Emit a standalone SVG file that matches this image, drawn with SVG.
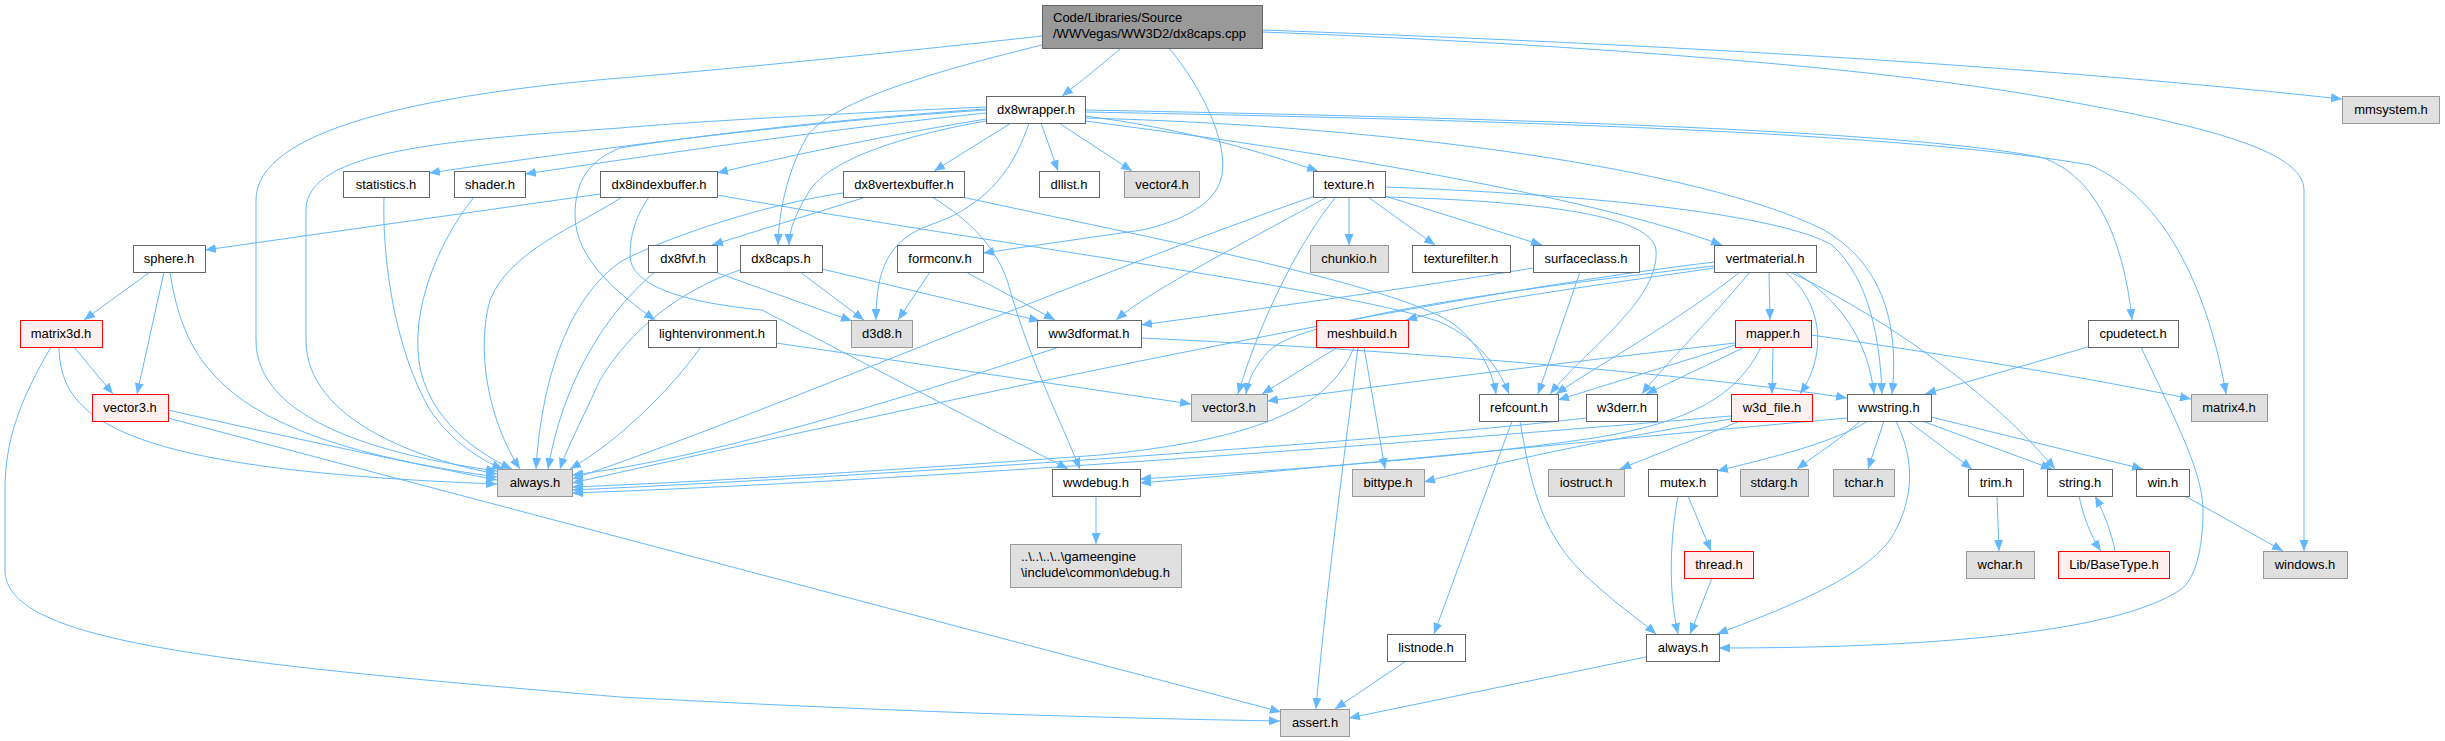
<svg xmlns="http://www.w3.org/2000/svg" width="2445" height="741" viewBox="0 0 2445 741">
<defs>
<marker id="a" markerWidth="11" markerHeight="9" refX="11" refY="4.5" orient="auto" markerUnits="userSpaceOnUse"><path d="M0,0 L11,4.5 L0,9 z" fill="#63b8ff"/></marker>
<style>
rect{stroke-width:1}
.w rect{fill:#ffffff;stroke:#666666}
.g rect{fill:#e0e0e0;stroke:#999999}
.r rect{fill:#fff0f0;stroke:#ff0000}
.m rect{fill:#999999;stroke:#666666}
text{font-family:"Liberation Sans",Arial,Helvetica,sans-serif;font-size:13px;fill:#000000;text-anchor:middle}
text.l{text-anchor:start}
#edges path{fill:none;stroke:#63b8ff;stroke-width:1;marker-end:url(#a)}
</style>
</defs>
<rect width="2445" height="741" fill="#ffffff"/>
<g id="edges">
<path d="M1121,48 C1105,62 1083,80 1062,96"/>
<path d="M1042,36 C900,52 720,70 620,78 C420,95 256,130 256,200 L256,340 C256,420 380,455 497,471"/>
<path d="M1042,45 C940,70 835,100 808,135 C790,165 779,205 778,245"/>
<path d="M1169,48 C1200,85 1228,140 1222,175 C1216,210 1165,225 1142,230 L983,253"/>
<path d="M1262,30 C1600,42 2000,62 2342,99"/>
<path d="M1262,32 C1600,45 1900,70 2060,100 C2200,125 2304,150 2304,190 L2304,551"/>
<path d="M986,110 C800,122 600,148 429,173"/>
<path d="M986,113 C850,127 700,148 525,174"/>
<path d="M986,119 C900,133 800,153 717,173"/>
<path d="M1011,123 L934,171"/>
<path d="M1041,123 L1058,171"/>
<path d="M1059,123 L1132,171"/>
<path d="M1085,116 C1180,128 1255,150 1318,171"/>
<path d="M986,107 C850,113 700,121 620,128 C450,140 306,150 306,210 L306,340 C306,420 420,460 497,474"/>
<path d="M986,109 C850,118 700,135 620,148 C590,160 575,180 575,215 C575,260 620,295 655,320"/>
<path d="M1029,123 C1015,165 990,205 930,225 C888,240 876,270 876,320"/>
<path d="M986,121 C900,136 830,160 810,190 C796,212 789,230 789,245"/>
<path d="M1085,110 C1500,118 1900,130 2040,157 C2100,175 2125,250 2132,320"/>
<path d="M1085,112 C1500,120 1900,132 2090,165 C2170,200 2210,300 2226,394"/>
<path d="M1085,118 C1400,126 1700,170 1820,228 C1880,260 1900,320 1892,394"/>
<path d="M1085,121 C1350,155 1600,200 1722,245"/>
<path d="M600,194 L205,250"/>
<path d="M622,197 C580,225 510,250 490,300 C476,350 488,420 520,469"/>
<path d="M649,197 C636,215 630,235 630,255 C630,285 680,302 762,310 L1068,469"/>
<path d="M717,195 C1000,245 1350,290 1440,322 C1480,340 1500,370 1509,394"/>
<path d="M866,197 L712,245"/>
<path d="M843,193 C760,205 660,240 620,262 C560,305 540,400 536,469"/>
<path d="M932,197 C970,220 1000,250 1010,290 C1030,360 1060,420 1080,469"/>
<path d="M962,197 C1150,238 1400,285 1455,325 C1483,348 1493,375 1496,394"/>
<path d="M1349,197 L1349,245"/>
<path d="M1368,197 L1435,245"/>
<path d="M1385,196 L1542,245"/>
<path d="M1327,197 C1250,240 1150,290 1116,320"/>
<path d="M1336,197 C1300,240 1260,320 1238,394"/>
<path d="M1315,196 C1100,270 750,420 572,479"/>
<path d="M1385,197 C1500,200 1652,210 1656,250 C1660,300 1585,350 1550,394"/>
<path d="M1385,187 C1600,195 1780,215 1832,245 C1870,280 1880,340 1882,394"/>
<path d="M150,272 L84,320"/>
<path d="M164,272 L137,394"/>
<path d="M170,272 C185,370 230,440 497,477"/>
<path d="M74,347 L113,394"/>
<path d="M59,347 C60,420 120,470 497,484"/>
<path d="M51,347 C20,400 5,440 5,490 L5,570 C5,640 200,662 620,697 C900,712 1100,718 1280,721"/>
<path d="M168,410 C300,440 420,465 497,480"/>
<path d="M168,418 L1281,712"/>
<path d="M384,197 C382,260 395,350 430,410 C450,440 480,460 503,469"/>
<path d="M474,197 C440,240 415,300 418,350 C420,410 470,450 512,469"/>
<path d="M715,272 L852,321"/>
<path d="M655,272 C615,305 565,370 548,469"/>
<path d="M800,272 L864,320"/>
<path d="M822,269 L1040,321"/>
<path d="M740,270 C680,290 630,330 600,380 C582,420 566,450 560,469"/>
<path d="M930,272 L898,320"/>
<path d="M966,272 L1055,320"/>
<path d="M776,343 L1191,404"/>
<path d="M701,347 C670,390 620,440 570,469"/>
<path d="M1059,347 C900,400 700,460 572,475"/>
<path d="M1141,338 C1400,350 1700,375 1847,398"/>
<path d="M1533,268 C1400,290 1250,310 1141,325"/>
<path d="M1580,272 L1538,394"/>
<path d="M1714,262 C1400,300 900,410 572,483"/>
<path d="M1714,268 C1600,285 1480,300 1406,320"/>
<path d="M1714,266 C1500,290 1300,320 1270,350 C1255,365 1248,380 1246,394"/>
<path d="M1740,272 C1680,320 1590,370 1556,394"/>
<path d="M1769,272 L1770,320"/>
<path d="M1750,272 C1710,320 1660,370 1642,394"/>
<path d="M1785,272 C1820,300 1830,350 1800,394"/>
<path d="M1795,272 C1840,300 1868,340 1874,394"/>
<path d="M1790,272 C1870,310 1985,385 2055,469"/>
<path d="M1338,347 L1262,394"/>
<path d="M1354,347 C1330,410 1250,440 1100,455 C900,470 700,482 572,487"/>
<path d="M1358,347 C1345,450 1325,600 1316,709"/>
<path d="M1364,347 L1385,469"/>
<path d="M1735,343 C1500,370 1350,390 1267,401"/>
<path d="M1735,345 L1558,400"/>
<path d="M1745,347 L1646,394"/>
<path d="M1773,347 L1772,394"/>
<path d="M1811,335 C1950,355 2100,380 2191,399"/>
<path d="M1761,347 C1740,390 1700,420 1600,437 C1450,460 1250,472 1140,479"/>
<path d="M1586,418 C1400,440 900,475 572,490"/>
<path d="M1731,416 C1450,440 900,482 572,493"/>
<path d="M1740,421 L1620,469"/>
<path d="M1731,419 C1600,440 1500,462 1424,482"/>
<path d="M1847,418 C1600,440 1300,470 1140,483"/>
<path d="M1868,421 C1830,445 1760,460 1717,471"/>
<path d="M1860,421 C1840,440 1815,455 1797,469"/>
<path d="M1884,421 L1868,469"/>
<path d="M1896,421 C1915,460 1915,500 1890,540 C1860,580 1780,610 1717,634"/>
<path d="M1908,421 L1972,469"/>
<path d="M1922,421 L2052,469"/>
<path d="M1931,417 L2143,469"/>
<path d="M2088,347 L1925,394"/>
<path d="M2141,347 C2170,410 2203,470 2203,510 C2203,550 2195,580 2180,590 C2120,630 1950,648 1719,648"/>
<path d="M1678,496 C1670,540 1668,590 1678,634"/>
<path d="M1688,496 L1711,551"/>
<path d="M1712,578 L1690,634"/>
<path d="M1512,421 L1434,634"/>
<path d="M1520,421 C1530,480 1540,530 1580,570 C1610,600 1640,620 1656,634"/>
<path d="M1406,661 L1335,709"/>
<path d="M1646,657 L1349,718"/>
<path d="M2185,496 L2283,551"/>
<path d="M1997,496 L1999,551"/>
<path d="M2079,496 C2083,515 2090,535 2101,551"/>
<path d="M2115,551 C2112,535 2105,515 2095,496"/>
<path d="M1096,496 L1096,544"/>
</g>
<g id="node-main" class="m"><rect x="1042.5" y="5.5" width="220" height="43"/><text class="l" x="1053" y="22">Code/Libraries/Source</text><text class="l" x="1053" y="38">/WWVegas/WW3D2/dx8caps.cpp</text></g>
<g id="node-dx8wrapper" class="w"><rect x="986.5" y="96.5" width="99" height="27"/><text x="1036" y="114">dx8wrapper.h</text></g>
<g id="node-mmsystem" class="g"><rect x="2342.5" y="96.5" width="97" height="27"/><text x="2391" y="114">mmsystem.h</text></g>
<g id="node-statistics" class="w"><rect x="343.5" y="171.5" width="86" height="26"/><text x="386" y="189">statistics.h</text></g>
<g id="node-shader" class="w"><rect x="454.5" y="171.5" width="71" height="26"/><text x="490" y="189">shader.h</text></g>
<g id="node-dx8indexbuffer" class="w"><rect x="600.5" y="171.5" width="117" height="26"/><text x="659" y="189">dx8indexbuffer.h</text></g>
<g id="node-dx8vertexbuffer" class="w"><rect x="843.5" y="171.5" width="121" height="26"/><text x="904" y="189">dx8vertexbuffer.h</text></g>
<g id="node-dllist" class="w"><rect x="1039.5" y="171.5" width="60" height="26"/><text x="1069" y="189">dllist.h</text></g>
<g id="node-vector4" class="g"><rect x="1124.5" y="171.5" width="75" height="26"/><text x="1162" y="189">vector4.h</text></g>
<g id="node-texture" class="w"><rect x="1313.5" y="171.5" width="72" height="26"/><text x="1349" y="189">texture.h</text></g>
<g id="node-sphere" class="w"><rect x="133.5" y="245.5" width="72" height="27"/><text x="169" y="263">sphere.h</text></g>
<g id="node-dx8fvf" class="w"><rect x="648.5" y="245.5" width="69" height="27"/><text x="683" y="263">dx8fvf.h</text></g>
<g id="node-dx8caps" class="w"><rect x="740.5" y="245.5" width="82" height="27"/><text x="781" y="263">dx8caps.h</text></g>
<g id="node-formconv" class="w"><rect x="897.5" y="245.5" width="86" height="27"/><text x="940" y="263">formconv.h</text></g>
<g id="node-chunkio" class="g"><rect x="1310.5" y="245.5" width="78" height="27"/><text x="1349" y="263">chunkio.h</text></g>
<g id="node-texturefilter" class="w"><rect x="1412.5" y="245.5" width="98" height="27"/><text x="1461" y="263">texturefilter.h</text></g>
<g id="node-surfaceclass" class="w"><rect x="1533.5" y="245.5" width="106" height="27"/><text x="1586" y="263">surfaceclass.h</text></g>
<g id="node-vertmaterial" class="w"><rect x="1714.5" y="245.5" width="102" height="27"/><text x="1765" y="263">vertmaterial.h</text></g>
<g id="node-matrix3d" class="r"><rect x="20.5" y="320.5" width="82" height="27"/><text x="61" y="338">matrix3d.h</text></g>
<g id="node-lightenvironment" class="w"><rect x="648.5" y="320.5" width="128" height="27"/><text x="712" y="338">lightenvironment.h</text></g>
<g id="node-d3d8" class="g"><rect x="851.5" y="320.5" width="61" height="27"/><text x="882" y="338">d3d8.h</text></g>
<g id="node-ww3dformat" class="w"><rect x="1037.5" y="320.5" width="104" height="27"/><text x="1089" y="338">ww3dformat.h</text></g>
<g id="node-meshbuild" class="r"><rect x="1316.5" y="320.5" width="92" height="27"/><text x="1362" y="338">meshbuild.h</text></g>
<g id="node-mapper" class="r"><rect x="1735.5" y="320.5" width="76" height="27"/><text x="1773" y="338">mapper.h</text></g>
<g id="node-cpudetect" class="w"><rect x="2088.5" y="320.5" width="90" height="27"/><text x="2133" y="338">cpudetect.h</text></g>
<g id="node-vector3-a" class="r"><rect x="92.5" y="394.5" width="76" height="27"/><text x="130" y="412">vector3.h</text></g>
<g id="node-vector3-b" class="g"><rect x="1191.5" y="394.5" width="76" height="27"/><text x="1229" y="412">vector3.h</text></g>
<g id="node-refcount" class="w"><rect x="1479.5" y="394.5" width="79" height="27"/><text x="1519" y="412">refcount.h</text></g>
<g id="node-w3derr" class="w"><rect x="1586.5" y="394.5" width="71" height="27"/><text x="1622" y="412">w3derr.h</text></g>
<g id="node-w3d_file" class="r"><rect x="1731.5" y="394.5" width="81" height="27"/><text x="1772" y="412">w3d_file.h</text></g>
<g id="node-wwstring" class="w"><rect x="1847.5" y="394.5" width="84" height="27"/><text x="1889" y="412">wwstring.h</text></g>
<g id="node-matrix4" class="g"><rect x="2191.5" y="394.5" width="76" height="27"/><text x="2229" y="412">matrix4.h</text></g>
<g id="node-always-a" class="g"><rect x="497.5" y="469.5" width="75" height="27"/><text x="535" y="487">always.h</text></g>
<g id="node-wwdebug" class="w"><rect x="1052.5" y="469.5" width="88" height="27"/><text x="1096" y="487">wwdebug.h</text></g>
<g id="node-bittype" class="g"><rect x="1352.5" y="469.5" width="72" height="27"/><text x="1388" y="487">bittype.h</text></g>
<g id="node-iostruct" class="g"><rect x="1548.5" y="469.5" width="76" height="27"/><text x="1586" y="487">iostruct.h</text></g>
<g id="node-mutex" class="w"><rect x="1648.5" y="469.5" width="69" height="27"/><text x="1683" y="487">mutex.h</text></g>
<g id="node-stdarg" class="g"><rect x="1740.5" y="469.5" width="68" height="27"/><text x="1774" y="487">stdarg.h</text></g>
<g id="node-tchar" class="g"><rect x="1833.5" y="469.5" width="61" height="27"/><text x="1864" y="487">tchar.h</text></g>
<g id="node-trim" class="w"><rect x="1968.5" y="469.5" width="55" height="27"/><text x="1996" y="487">trim.h</text></g>
<g id="node-string" class="w"><rect x="2047.5" y="469.5" width="65" height="27"/><text x="2080" y="487">string.h</text></g>
<g id="node-win" class="w"><rect x="2136.5" y="469.5" width="53" height="27"/><text x="2163" y="487">win.h</text></g>
<g id="node-debug" class="g"><rect x="1010.5" y="544.5" width="171" height="43"/><text class="l" x="1021" y="561">..\..\..\..\gameengine</text><text class="l" x="1021" y="577">\include\common\debug.h</text></g>
<g id="node-thread" class="r"><rect x="1684.5" y="551.5" width="69" height="27"/><text x="1719" y="569">thread.h</text></g>
<g id="node-wchar" class="g"><rect x="1966.5" y="551.5" width="68" height="27"/><text x="2000" y="569">wchar.h</text></g>
<g id="node-basetype" class="r"><rect x="2058.5" y="551.5" width="111" height="27"/><text x="2114" y="569">Lib/BaseType.h</text></g>
<g id="node-windows" class="g"><rect x="2263.5" y="551.5" width="84" height="27"/><text x="2305" y="569">windows.h</text></g>
<g id="node-listnode" class="w"><rect x="1387.5" y="634.5" width="78" height="27"/><text x="1426" y="652">listnode.h</text></g>
<g id="node-always-b" class="w"><rect x="1646.5" y="634.5" width="73" height="27"/><text x="1683" y="652">always.h</text></g>
<g id="node-assert" class="g"><rect x="1280.5" y="709.5" width="69" height="27"/><text x="1315" y="727">assert.h</text></g>
</svg>
